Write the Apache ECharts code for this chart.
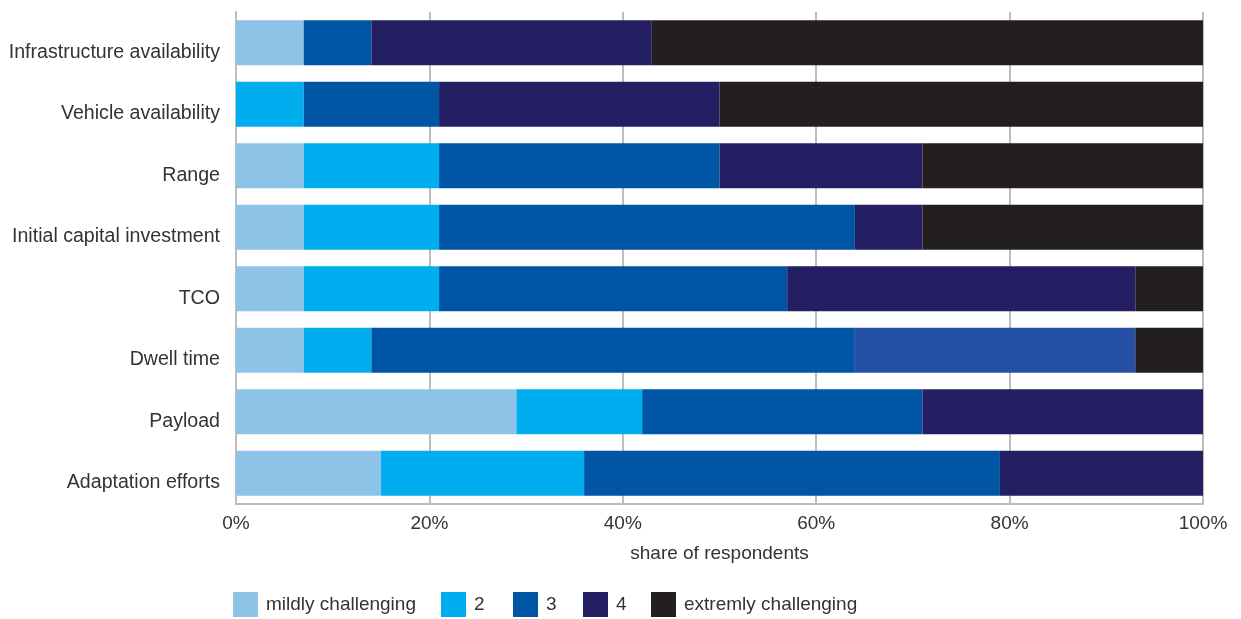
<!DOCTYPE html>
<html><head><meta charset="utf-8">
<script src="https://cdn.jsdelivr.net/npm/echarts@6/dist/echarts.min.js"></script>
<style>html,body{margin:0;padding:0;background:#fff}#c{width:1241px;height:619px}</style>
</head><body><div id="c"></div>
<script>
const categories = ["Infrastructure availability","Vehicle availability","Range","Initial capital investment","TCO","Dwell time","Payload","Adaptation efforts"];
const seriesNames = ["mildly challenging","2","3","4","extremly challenging"];
const mild    = [7, 0, 7, 7, 7, 7, 29, 15];
const two     = [0, 7, 14, 14, 14, 7, 13, 21];
const three   = [7, 14, 29, 43, 36, 50, 29, 43];
const four    = [29, 29, 21, 7, 36, 29, 29, 21];
const extreme = [57, 50, 29, 29, 7, 7, 0, 0];
const xTicks = [0, 20, 40, 60, 80, 100];
const colors = ["#8EC3E8","#00AEEF","#0055A5","#241F62","#231F20"];
const dwellFourColor = "#2550A5";
const legendLefts = [228, 436, 508, 578, 646];

const font = "Liberation Sans";
const values = [mild, two, three, four, extreme];
const cats = categories.slice().reverse();
const series = values.map((arr, i) => ({
  name: seriesNames[i],
  type: 'bar',
  stack: 'total',
  barWidth: 45,
  itemStyle: {color: colors[i]},
  data: arr.slice().reverse().map((v, j) => {
    const cat = cats[j];
    if (i === 3 && cat === "Dwell time") return {value: v, itemStyle: {color: dwellFourColor}};
    return v;
  })
}));

const legends = seriesNames.map((n, i) => ({
  left: legendLefts[i], top: 587, itemWidth: 25, itemHeight: 25,
  icon: 'rect',
  textStyle: {fontSize: 19, color: '#333', fontFamily: font, padding: [12, 0, 0, 3]},
  data: [n]
}));

const chart = echarts.init(document.getElementById('c'));
chart.setOption({
  animation: false,
  textStyle: {fontFamily: font},
  color: colors,
  grid: {left: 236, right: 38, top: 12, bottom: 115, containLabel: false},
  legend: legends,
  xAxis: {
    type: 'value', min: 0, max: 100, interval: 20,
    name: 'share of respondents', nameLocation: 'middle', nameGap: 40,
    nameTextStyle: {fontSize: 19, color: '#333', fontFamily: font},
    axisLine: {show: true, lineStyle: {color: '#BDBDBD', width: 2}},
    axisTick: {show: false},
    splitLine: {show: true, lineStyle: {color: '#BDBDBD', width: 2}},
    axisLabel: {fontSize: 19, color: '#333', margin: 10, fontFamily: font,
      formatter: v => xTicks.includes(v) ? v + '%' : ''}
  },
  yAxis: {
    type: 'category', data: cats,
    axisLine: {show: true, lineStyle: {color: '#BDBDBD', width: 2}},
    axisTick: {show: false},
    axisLabel: {fontSize: 19.6, color: '#333', margin: 16, fontFamily: font, verticalAlign: 'top', lineHeight: 19}
  },
  series: series
});
</script></body></html>
